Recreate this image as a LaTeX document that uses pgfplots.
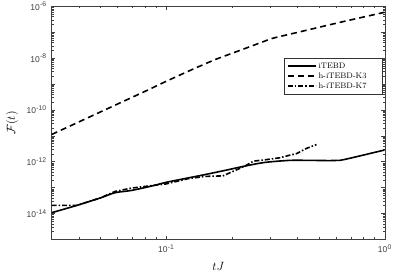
\documentclass[border=0pt]{standalone}
\usepackage{pgfplots}
\pgfplotsset{compat=1.18}
\usepackage{fontspec}
\newfontfamily\ticksf{Liberation Sans}
\newcommand{\tl}[1]{10\raisebox{0.75ex}{\fontsize{6.8}{8}\selectfont\kern0.3pt#1}}
\newcommand{\legtxt}[1]{\makebox[60pt][l]{#1}}
\begin{document}
\begin{tikzpicture}
\begin{loglogaxis}[
  scale only axis, width=333pt, height=233pt,
  xmin=0.03, xmax=1, ymin=1e-15, ymax=1e-6,
  xtick={0.1,1}, xticklabels={\tl{-1},\tl{0}},
  ytick={1e-15,1e-14,1e-13,1e-12,1e-11,1e-10,1e-9,1e-8,1e-7,1e-6},
  yticklabels={,\tl{-14},,\tl{-12},,\tl{-10},,\tl{-8},,\tl{-6}},
  minor xtick={0.04,0.05,0.06,0.07,0.08,0.09,0.2,0.3,0.4,0.5,0.6,0.7,0.8,0.9},
  minor ytick={2e-15,3e-15,4e-15,5e-15,6e-15,7e-15,8e-15,9e-15,
               2e-14,3e-14,4e-14,5e-14,6e-14,7e-14,8e-14,9e-14,
               2e-13,3e-13,4e-13,5e-13,6e-13,7e-13,8e-13,9e-13,
               2e-12,3e-12,4e-12,5e-12,6e-12,7e-12,8e-12,9e-12,
               2e-11,3e-11,4e-11,5e-11,6e-11,7e-11,8e-11,9e-11,
               2e-10,3e-10,4e-10,5e-10,6e-10,7e-10,8e-10,9e-10,
               2e-9,3e-9,4e-9,5e-9,6e-9,7e-9,8e-9,9e-9,
               2e-8,3e-8,4e-8,5e-8,6e-8,7e-8,8e-8,9e-8,
               2e-7,3e-7,4e-7,5e-7,6e-7,7e-7,8e-7,9e-7},
  tick label style={font=\ticksf\fontsize{8.5}{10}\selectfont, text=black!75},
  xticklabel style={yshift=-2pt},
  yticklabel style={xshift=-2pt},
  tick align=inside,
  major tick length=3.5pt, minor tick length=2pt,
  axis line style={black!75},
  every tick/.style={black!75, line width=0.4pt},
  xlabel={$tJ$}, ylabel={$\mathcal{F}(t)$},
  label style={font=\fontsize{12}{14}\selectfont},
  xlabel style={at={(rel axis cs:0.5,0)}, yshift=-19pt, anchor=north},
  ylabel style={at={(rel axis cs:0,0.5)}, anchor=north, yshift=49pt},
  legend style={at={(0.994,0.777)}, anchor=north east, draw=black!80,
    font=\fontsize{8}{9}\selectfont, inner xsep=2pt, inner ysep=2.5pt,
    row sep=-1pt},
  legend cell align=left,
  legend image code/.code={\draw[#1, line width=1.9pt] (0pt,0.25pt) -- (28pt,0.25pt);},
]
\addplot[black, line width=1.6pt, smooth] coordinates {
 (0.030,1.07e-14) (0.0391,2.04e-14) (0.0501,3.98e-14) (0.0585,6.31e-14)
 (0.0697,7.76e-14) (0.0871,1.175e-13) (0.1,1.585e-13) (0.1259,2.34e-13)
 (0.1507,3.16e-13) (0.1905,4.79e-13) (0.2296,6.76e-13) (0.2831,9.33e-13)
 (0.3681,1.12e-12) (0.4467,1.12e-12) (0.5623,1.10e-12) (0.6237,1.12e-12)
 (0.7691,1.66e-12) (0.8913,2.24e-12) (1.0,2.82e-12)
};
\addlegendentry{\legtxt{iTEBD}}
\addplot[black, line width=1.6pt, smooth, dash pattern=on 6pt off 4pt] coordinates {
 (0.030,1.12e-11) (0.0501,8.3e-11) (0.0794,5.0e-10) (0.1,1.26e-9)
 (0.1318,3.63e-9) (0.1675,8.71e-9) (0.1995,1.51e-8) (0.2399,2.69e-8)
 (0.2818,4.47e-8) (0.309,5.89e-8) (0.398,9.77e-8) (0.501,1.55e-7)
 (0.631,2.45e-7) (0.794,3.80e-7) (1.0,5.89e-7)
};
\addlegendentry{\legtxt{h-iTEBD-K3}}
\addplot[black, line width=1.6pt, dash pattern=on 5pt off 2pt on 1.5pt off 2pt] coordinates {
 (0.030,2.04e-14) (0.0355,2.04e-14) (0.0391,2.04e-14) (0.0501,3.98e-14)
 (0.0585,7.08e-14) (0.0697,9.55e-14) (0.0871,1.20e-13) (0.1,1.38e-13)
 (0.1259,2.19e-13) (0.1507,2.69e-13) (0.182,2.82e-13) (0.2188,5.62e-13)
 (0.2296,6.76e-13) (0.2512,1.047e-12) (0.2831,1.175e-12) (0.3311,1.41e-12)
 (0.3681,1.78e-12) (0.3954,2.04e-12) (0.4385,3.24e-12) (0.4875,4.57e-12)
};
\addlegendentry{\legtxt{h-iTEBD-K7}}
\end{loglogaxis}
\pgfresetboundingbox
\path[use as bounding box] (-51.7pt,-32pt) rectangle (343.3pt,239.3pt);
\end{tikzpicture}
\end{document}
